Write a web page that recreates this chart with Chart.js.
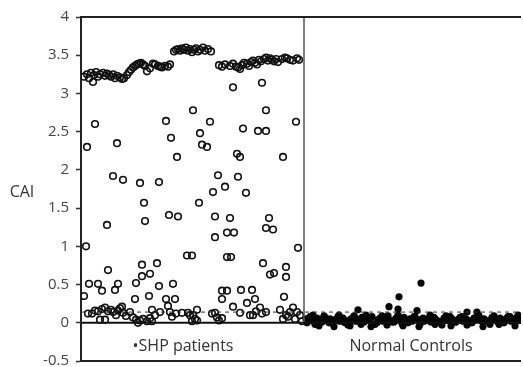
<!DOCTYPE html>
<html>
<head>
<meta charset="utf-8">
<script src="https://cdn.jsdelivr.net/npm/chart.js@4/dist/chart.umd.min.js"></script>
<style>
  html, body { margin: 0; padding: 0; background: #fff; }
  #wrap { width: 523px; height: 367px; }
</style>
</head>
<body>
<div id="wrap"><canvas id="caiChart" width="523" height="367"></canvas></div>
<script>
// subject position along the x axis (0..440), CAI value on y
const shpHighX = [3,6,8,10,12,13,15,17,19,22,24,26,28,30,32,34,36,39,41,43,46,48,50,52,54,56,58,60,62,64,66,69,72,74,77,79,81,84,87,89,
  93,95,97,99,101,103,105,107,109,111,113,115,117,119,122,124,127,130,
  138,141,144,149,152,155,157,159,161,163,166,168,170,172,174,176,178,180,183,185,187,189,191,193,195,197,201,204,206,209,212,216,218];
const shpHighY = [3.22,3.25,3.2,3.27,3.15,3.24,3.28,3.22,3.25,3.27,3.23,3.26,3.24,3.22,3.25,3.2,3.23,3.21,3.19,3.2,3.24,3.28,3.31,3.34,3.36,3.38,3.39,3.4,3.38,3.36,3.29,3.33,3.39,3.38,3.36,3.35,3.34,3.36,3.35,3.38,
  3.55,3.57,3.58,3.56,3.59,3.57,3.6,3.56,3.58,3.54,3.57,3.59,3.55,3.57,3.6,3.56,3.58,3.55,
  3.37,3.35,3.38,3.36,3.39,3.35,3.34,3.32,3.37,3.4,3.39,3.36,3.41,3.43,3.4,3.38,3.44,3.42,3.45,3.47,3.43,3.46,3.44,3.42,3.45,3.41,3.45,3.47,3.46,3.44,3.43,3.46,3.44];

const shpMidX = [112,14,85,90,6,36,96,32,42,59,78,152,181,185,129,215,119,162,177,185,121,126,156,159,202,137,157,
  144,132,165,118,63,26,64,88,97,134,149,188,146,153,185,192,134,217,5,106,111,146,150,182,205,189,193,205,
  27,61,76,69,61,8,17,21,37,34,55,78,92,3,54,68,85,94,141,146,160,171,141,166,174,152,203,116];
const shpMidY = [2.78,2.6,2.64,2.42,2.3,2.35,2.17,1.92,1.87,1.83,1.84,3.08,3.14,2.78,2.63,2.63,2.48,2.54,2.51,2.51,2.33,2.3,2.21,2.17,2.17,1.93,1.91,
  1.78,1.71,1.7,1.57,1.57,1.28,1.33,1.41,1.39,1.39,1.37,1.37,1.18,1.18,1.24,1.22,1.12,0.98,1.0,0.88,0.88,0.86,0.86,0.78,0.73,0.63,0.65,0.6,
  0.69,0.76,0.78,0.64,0.61,0.51,0.51,0.42,0.51,0.43,0.52,0.48,0.51,0.35,0.31,0.35,0.31,0.31,0.42,0.42,0.43,0.43,0.31,0.26,0.31,0.21,0.34,0.17];

const shpLowX = [7,11,14,17,19,21,24,24,27,30,32,35,37,39,41,42,45,49,52,55,57,59,62,66,69,71,71,74,79,87,89,91,95,101,107,109,111,112,114,116,
  131,134,136,138,141,159,169,172,175,179,181,185,199,202,205,207,209,212,214,216,219,221];
const shpLowY = [0.12,0.12,0.16,0.15,0.04,0.18,0.2,0.04,0.15,0.17,0.14,0.1,0.16,0.19,0.21,0.13,0.09,0.14,0.07,0.04,0.0,0.03,0.05,0.02,0.06,0.17,0.02,0.1,0.14,0.22,0.14,0.08,0.12,0.13,0.13,0.1,0.02,0.1,0.05,0.03,
  0.12,0.13,0.07,0.03,0.06,0.13,0.1,0.1,0.15,0.2,0.12,0.14,0.17,0.05,0.1,0.08,0.14,0.2,0.05,0.14,0.1,0.02];

const ctrlX = [225,227,229,231,234,236,239,241,244,246,249,252,254,257,259,262,265,267,270,273,275,278,281,283,286,289,291,294,297,299,
  302,305,307,310,313,315,318,321,323,326,329,331,334,337,339,342,345,347,350,353,355,358,361,363,366,369,371,374,377,379,
  382,385,387,390,393,395,398,401,403,406,409,411,414,417,419,422,425,427,430,433,435,438,
  226,232,238,243,248,253,258,264,269,274,280,285,290,296,301,306,311,317,322,327,333,338,343,349,354,359,365,370,375,381,
  386,391,397,402,407,413,418,423,429,434,437,
  277,308,317,318,336,340,386,396];
const ctrlY = [0.05,0.02,0.08,0.03,-0.02,0.06,0.04,0.01,0.07,0.03,0.05,-0.01,0.04,0.08,0.02,0.06,0.03,-0.03,0.05,0.09,0.02,0.04,0.07,0.01,0.05,0.03,0.08,-0.02,0.04,0.06,
  0.02,0.05,0.09,0.03,0.01,0.06,0.04,-0.01,0.07,0.03,0.05,0.02,0.08,0.04,-0.02,0.06,0.03,0.05,0.01,0.07,0.04,0.02,-0.03,0.06,0.03,0.08,0.05,0.01,0.04,0.07,
  0.02,0.05,-0.01,0.03,0.06,0.04,0.09,0.02,0.05,0.03,-0.02,0.07,0.04,0.01,0.06,0.03,0.05,0.08,0.02,0.04,0.06,0.03,
  0.0,0.1,-0.04,0.09,0.0,-0.05,0.1,0.0,-0.04,0.07,-0.02,0.1,-0.05,0.0,0.09,-0.03,0.01,0.1,-0.04,0.0,0.08,-0.05,0.02,0.1,-0.02,0.0,0.09,-0.04,0.01,0.08,
  -0.03,0.0,0.1,-0.05,0.02,0.09,-0.02,0.0,0.08,-0.04,0.1,
  0.17,0.21,0.18,0.34,0.16,0.52,0.14,0.14];

const yMin = -0.5, yMax = 4;
const cutoff = 0.14;        // dashed reference line
const divideAt = 223;       // boundary between the two groups
const groupNames = ['\u2022SHP patients', 'Normal Controls'];
const groupCenters = [102, 330];
const yTitle = 'CAI';

function pts(xs, ys) {
  return xs.map((x, i) => ({ x: x, y: ys[i] }));
}
function hline(y, color, width, dash) {
  return { data: [{x: 0, y: y}, {x: 440, y: y}], showLine: true, borderColor: color, borderWidth: width,
           borderDash: dash || [], pointRadius: 0, clip: false };
}

const labelsPlugin = {
  id: 'labels',
  afterDraw(chart) {
    const ctx = chart.ctx;
    const xs = chart.scales.x;
    const ys = chart.scales.y;
    ctx.save();
    ctx.fillStyle = '#333';
    ctx.font = '16px "Open Sans"';
    ctx.textAlign = 'center';
    ctx.textBaseline = 'middle';
    groupNames.forEach((name, i) => {
      ctx.fillText(name, xs.getPixelForValue(groupCenters[i]), ys.getPixelForValue(-0.31));
    });
    ctx.fillText(yTitle, 22, ys.getPixelForValue(1.71));
    ctx.restore();
  }
};

const ctx = document.getElementById('caiChart').getContext('2d');
new Chart(ctx, {
  type: 'scatter',
  data: {
    datasets: [
      hline(yMax, '#222', 2),
      hline(yMin, '#222', 2),
      hline(0, '#111', 2),
      hline(cutoff, '#333', 1, [4, 4]),
      { data: [{x: divideAt, y: yMax}, {x: divideAt, y: 0}], showLine: true, borderColor: '#555', borderWidth: 1.5, pointRadius: 0 },
      { data: pts(shpHighX, shpHighY).concat(pts(shpMidX, shpMidY), pts(shpLowX, shpLowY)),
        pointRadius: 3.3, borderWidth: 1.6, borderColor: '#111', backgroundColor: 'rgba(255,255,255,0)' },
      { data: pts(ctrlX, ctrlY), pointRadius: 3.6, borderWidth: 0, backgroundColor: '#050505', borderColor: '#050505' }
    ]
  },
  options: {
    responsive: false,
    animation: false,
    layout: { autoPadding: false, padding: { top: 17, right: 2, bottom: 6, left: 0 } },
    plugins: { legend: { display: false }, tooltip: { enabled: false } },
    scales: {
      x: { type: 'linear', min: 0, max: 440, display: false },
      y: {
        min: yMin, max: yMax,
        ticks: { stepSize: 0.5, color: '#444', padding: 7, font: { family: 'Open Sans', size: 15 },
                 callback: (v) => String(v) },
        grid: { drawOnChartArea: false, drawTicks: true, tickLength: 5, color: '#333', tickWidth: 1.5 },
        border: { display: true, color: '#222', width: 2 },
        afterFit: (s) => { s.width = 81; s.paddingTop = 0; s.paddingBottom = 0; }
      }
    }
  },
  plugins: [labelsPlugin]
});
</script>
</body>
</html>
